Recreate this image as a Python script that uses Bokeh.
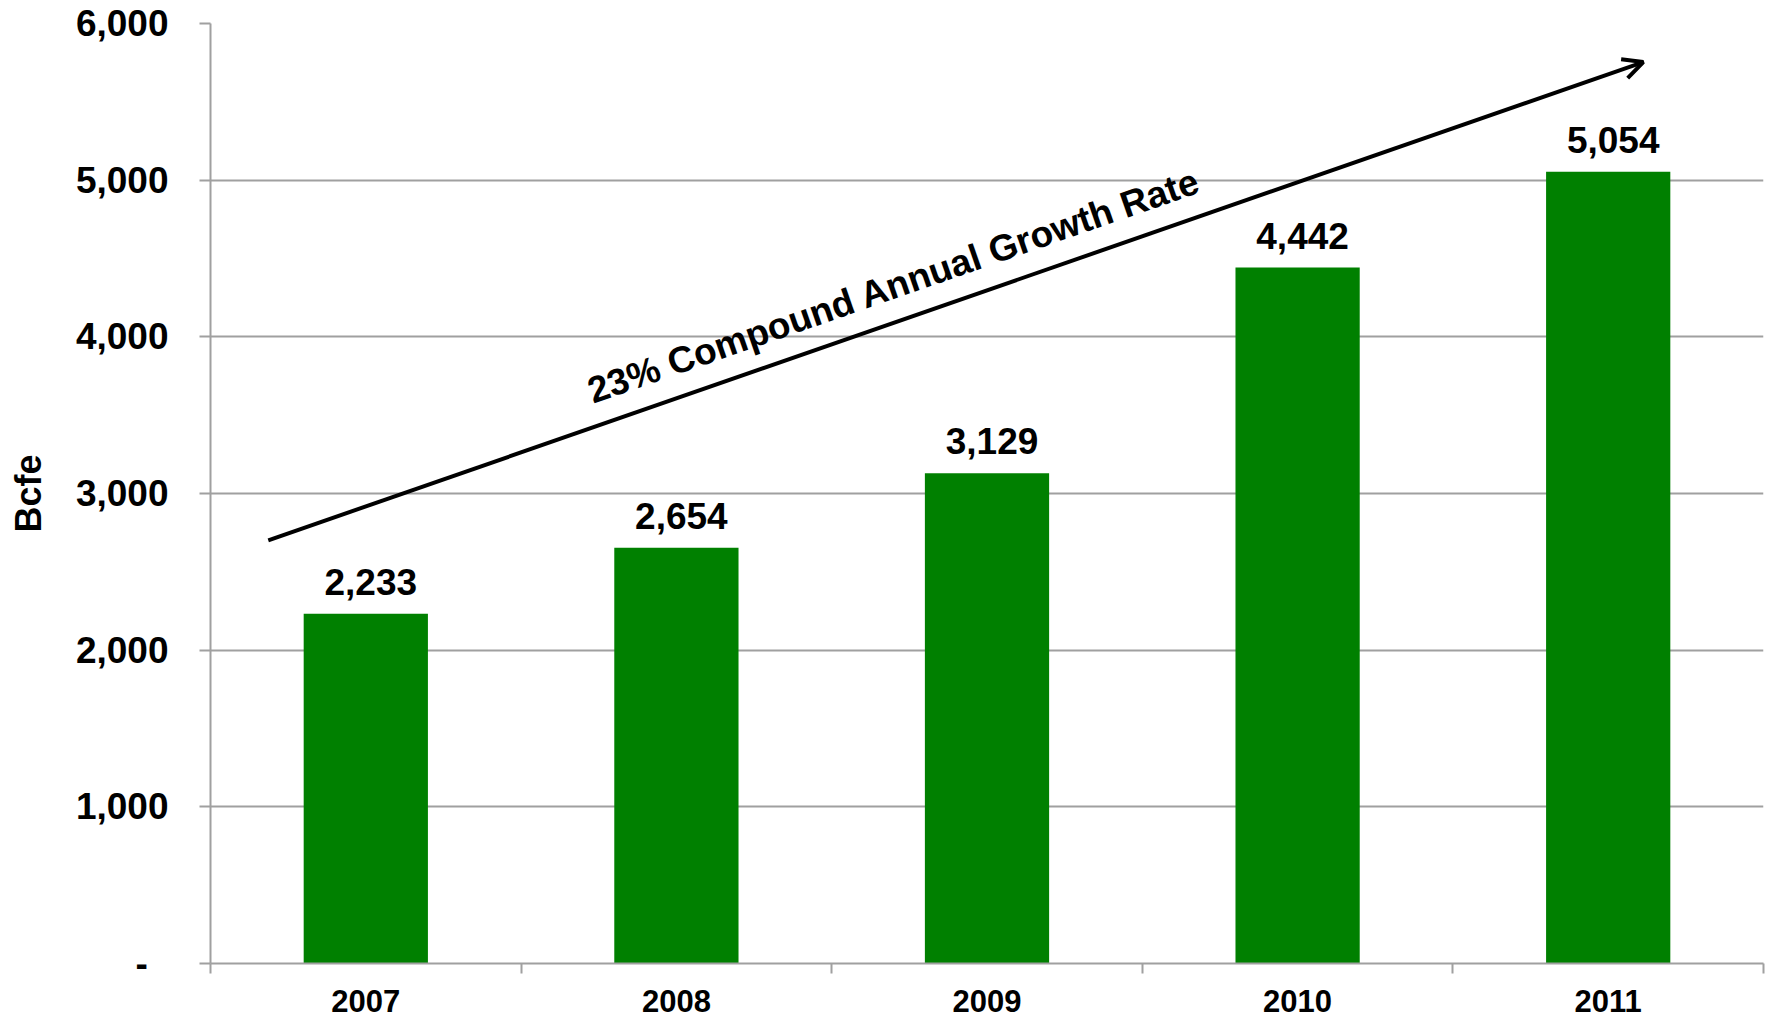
from bokeh.plotting import figure
from bokeh.models import (ColumnDataSource, FixedTicker, NumeralTickFormatter, LabelSet,
                          Label, Arrow, OpenHead, Range1d)
from bokeh.core.properties import value
from bokeh.embed import file_html
from bokeh.resources import INLINE

# ---- data ----
years = ["2007", "2008", "2009", "2010", "2011"]
bcfe = [2233, 2654, 3129, 4442, 5054]
y_ticks = [0, 1000, 2000, 3000, 4000, 5000, 6000]
annotation = "23% Compound Annual Growth Rate"

FONT = "Liberation Sans"
GRID = "#a0a0a0"
GREEN = "#008000"

idx = list(range(len(years)))
src = ColumnDataSource(dict(x=idx, top=bcfe, label=[f"{v:,}" for v in bcfe]))

p = figure(width=1768, height=1018, output_backend="svg", toolbar_location=None,
           x_range=Range1d(-0.5, len(years) - 0.5), y_range=Range1d(0, 6000),
           min_border_left=210, min_border_right=5, min_border_top=23, min_border_bottom=55)
p.outline_line_color = None
p.background_fill_color = "white"
p.border_fill_color = "white"

p.vbar(x="x", top="top", width=0.4, source=src, fill_color=GREEN, line_color=None)

# data labels
p.add_layout(LabelSet(x="x", y="top", text="label", source=src, text_align="center",
                      text_baseline="alphabetic", x_offset=5, y_offset=19, text_font=value(FONT),
                      text_font_size=value("37px"), text_font_style="bold", text_color="black"))

# grid
p.xgrid.grid_line_color = None
p.ygrid.grid_line_color = GRID
p.ygrid.grid_line_width = 2

# y axis
ya = p.yaxis[0]
ya.ticker = FixedTicker(ticks=y_ticks, minor_ticks=[])
ya.formatter = NumeralTickFormatter(format="0,0")
ya.major_label_overrides = {0: "-\u00a0\u00a0"}
ya.axis_line_color = GRID
ya.axis_line_width = 2
ya.major_tick_line_color = GRID
ya.major_tick_line_width = 2
ya.major_tick_out = 11
ya.major_tick_in = 0
ya.major_label_standoff = 31
ya.major_label_text_font = FONT
ya.major_label_text_font_size = "37px"
ya.major_label_text_font_style = "bold"
ya.major_label_text_color = "black"
ya.axis_label = "Bcfe"
ya.axis_label_text_font = FONT
ya.axis_label_text_font_size = "36px"
ya.axis_label_text_font_style = "bold"
ya.axis_label_text_color = "black"
ya.axis_label_standoff = 24

# x axis
xa = p.xaxis[0]
xa.ticker = FixedTicker(ticks=idx, minor_ticks=[i - 0.5 for i in range(len(years) + 1)])
xa.major_label_overrides = {i: y for i, y in zip(idx, years)}
xa.axis_line_color = GRID
xa.axis_line_width = 2
xa.major_tick_line_color = None
xa.major_tick_out = 0
xa.major_tick_in = 0
xa.minor_tick_line_color = GRID
xa.minor_tick_line_width = 2
xa.minor_tick_out = 10
xa.minor_tick_in = 0
xa.major_label_standoff = 16
xa.major_label_text_font = FONT
xa.major_label_text_font_size = "31px"
xa.major_label_text_font_style = "bold"
xa.major_label_text_color = "black"

# growth arrow + annotation
p.add_layout(Arrow(x_start=-0.314, y_start=2701, x_end=4.113, y_end=5754,
                   line_color="black", line_width=4,
                   end=OpenHead(size=20, line_width=4, line_color="black")))
p.add_layout(Label(x=1.70, y=4326, text=annotation, angle=19.2, angle_units="deg",
                   text_align="center", text_baseline="middle", text_font=FONT,
                   text_font_size="37px", text_font_style="bold", text_color="black"))

open("out.html", "w").write(file_html(p, INLINE))
